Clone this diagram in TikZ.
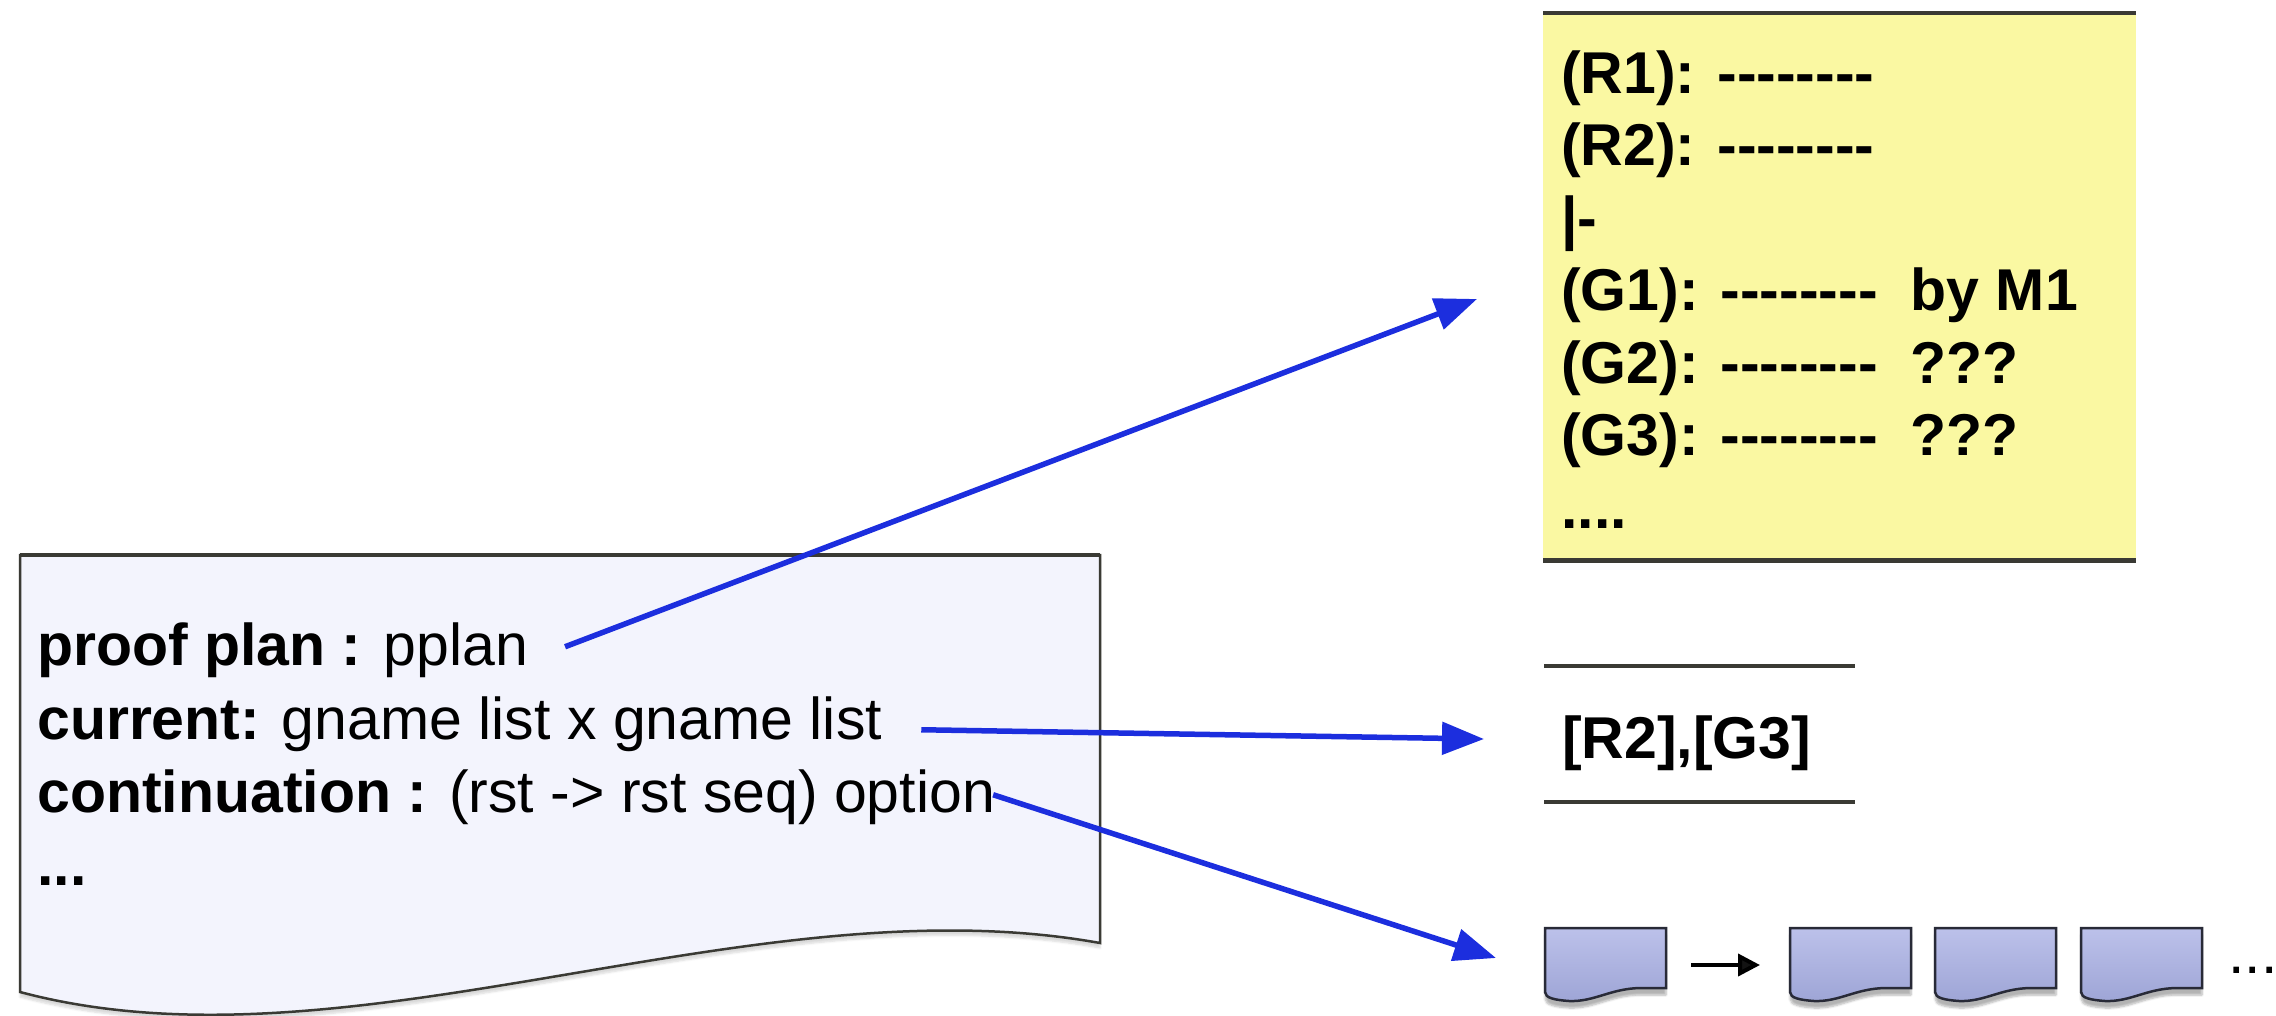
\documentclass[tikz,border=0pt]{standalone}
\usepackage{fontspec}
\setmainfont{Liberation Sans}
\usetikzlibrary{arrows.meta,shadows.blur}

\definecolor{planyellow}{RGB}{250,248,162}
\definecolor{docpaper}{RGB}{243,244,253}
\definecolor{rulegray}{RGB}{58,58,52}
\definecolor{linkblue}{RGB}{28,46,222}
\definecolor{cardtop}{RGB}{188,193,234}
\definecolor{cardbot}{RGB}{158,165,214}
\definecolor{cardedge}{RGB}{40,42,55}

% eight separate hyphens (kerns stop the TeX dash ligatures)
\newcommand\hyph{-\kern0pt-\kern0pt-\kern0pt-\kern0pt-\kern0pt-\kern0pt-\kern0pt-}

\begin{document}
\begin{tikzpicture}[x=1pt,y=-1pt,
  txt/.style={anchor=base west, inner sep=0pt, font=\fontsize{59}{70}\selectfont},
  btxt/.style={txt, font=\fontsize{59}{70}\selectfont\bfseries},
  link/.style={draw=linkblue, line width=5.5pt, -{Triangle[length=42pt,width=32pt]}},
  rulebar/.style={draw=rulegray, line width=4.5pt},
  paper/.style={fill=docpaper, draw=rulegray, line width=2.5pt,
    blur shadow={shadow xshift=0pt, shadow yshift=-5pt, shadow blur steps=6, shadow opacity=15}},
  cardshape/.style={top color=cardtop, bottom color=cardbot, draw=cardedge, line width=2.5pt,
    blur shadow={shadow xshift=0pt, shadow yshift=-7pt, shadow blur steps=6, shadow opacity=30}},
  card/.pic={
    \path[cardshape] (0,0) -- (121,0) -- (121,60) -- (97,60)
      .. controls (66,60) and (50,74) .. (24,73)
      .. controls (10,72) and (0,70) .. (0,64) -- cycle;
    \coordinate (-w) at (0,37);
    \coordinate (-e) at (121,37);
  }
]
\useasboundingbox (0,0) rectangle (2276,1015);

% ---- record on the left (document shape) ----
\path[paper] (20,555) -- (1100,555) -- (1100,943)
  .. controls (750,880) and (350,1080) .. (20,992) -- cycle;
\draw[draw=rulegray, line width=4pt] (20,555) -- (1100,555);

\node[txt] (pp)   at (37,665) {\textbf{proof plan :} pplan};
\node[txt] (cur)  at (37,739) {\textbf{current:} gname list x gname list};
\node[txt] (cont) at (37,812) {\textbf{continuation :} (rst -> rst seq) option};
\node[btxt] (more) at (37,885) {...};

% ---- proof plan (yellow sheet) ----
\node[fill=planyellow, inner sep=0pt, minimum width=593pt, minimum height=547pt,
      anchor=north west] (plan) at (1543,13) {};
\draw[rulebar] (plan.north west) -- (plan.north east);
\draw[rulebar] (plan.south west) -- (plan.south east);

\node[btxt] (r1)   at (1561,93)    {(R1): \hyph};
\node[btxt] (r2)   at (1561,165.5) {(R2): \hyph};
\node[btxt] (ts)   at (1561,238)   {|-};
\node[btxt] (g1)   at (1561,310.5) {(G1): \hyph\ \ by M1};
\node[btxt] (g2)   at (1561,383)   {(G2): \hyph\ \ ???};
\node[btxt] (g3)   at (1561,455.5) {(G3): \hyph\ \ ???};
\node[btxt] (gdot) at (1561,528)   {....};

% ---- current goals ----
\node[btxt] (goals) at (1562,758) {[R2],[G3]};
\draw[draw=rulegray, line width=4pt] (1544,666) -- (1855,666);
\draw[draw=rulegray, line width=4pt] (1544,802) -- (1855,802);

% ---- continuation: sequence of records ----
\pic (s1) at (1545,928) {card};
\pic (s2) at (1790,928) {card};
\pic (s3) at (1935,928) {card};
\pic (s4) at (2081,928) {card};
\node[txt] (tail) at (2228,973) {...};
\draw[line width=4pt, -{Triangle[length=22pt,width=22pt]},
      shorten <=25pt, shorten >=30pt] (s1-e) -- (s2-w);

% ---- links ----
\coordinate (tipplan)  at (1477,299);
\coordinate (tipgoals) at (1484,739);
\coordinate (tipseq)   at (1496,958);
\draw[link] ([xshift=37pt,yshift=3pt]pp.east) -- (tipplan);
\draw[link] ([xshift=39pt,yshift=-6pt]cur.east) -- (tipgoals);
\draw[link] ([xshift=-2pt,yshift=2pt]cont.east) -- (tipseq);
\end{tikzpicture}
\end{document}
